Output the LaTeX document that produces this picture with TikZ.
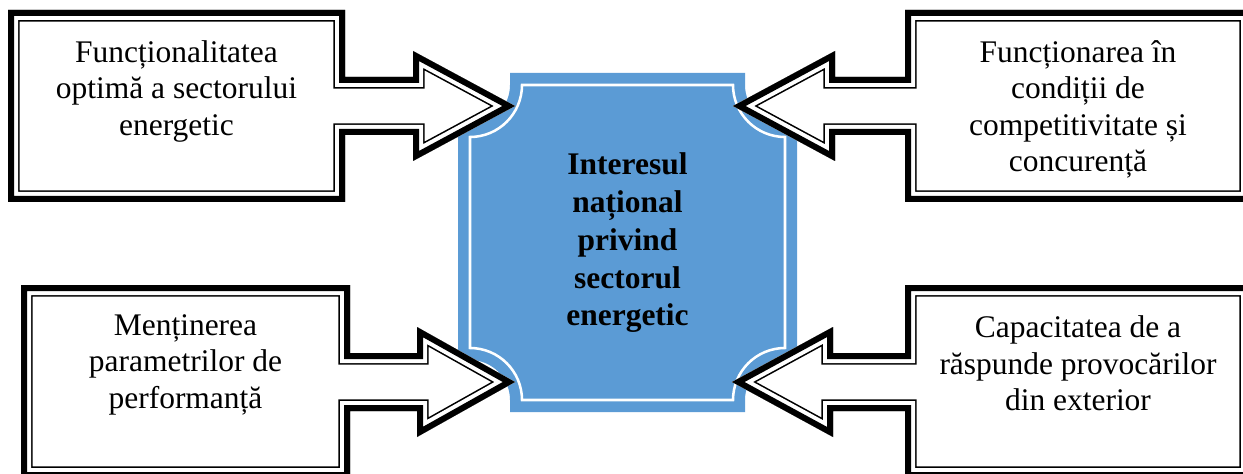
\documentclass[tikz,border=0pt]{standalone}
\usepackage{fontspec}
\setmainfont{Liberation Serif}
\definecolor{plaqueblue}{RGB}{91,155,213}
\newcommand{\mycallout}[1]{%
  \begin{scope}
    \clip #1;
    \fill[white] #1;
    \draw[black, line width=17.4pt, line join=miter, miter limit=20] #1;
    \draw[white, line width=15pt, line join=miter, miter limit=20] #1;
    \draw[black, line width=9pt, line join=miter, miter limit=20] #1;
  \end{scope}}
\begin{document}
\begin{tikzpicture}[x=0.75pt, y=-0.75pt,
  boxtext/.style={font=\fontsize{23.6pt}{27.4pt}\selectfont, align=center, inner sep=0pt, anchor=north},
  centertext/.style={font=\fontsize{23.6pt}{28.3pt}\selectfont\bfseries, align=center, inner sep=0pt, anchor=north},
  plaqueline/.style={draw=white, line width=1.9pt}]
\useasboundingbox (0,0) rectangle (1243,474);

% central plaque
\fill[plaqueblue] (510,73) -- (745,73) -- (745,85) .. controls (745,107.1) and (762.9,125) .. (785,125) -- (797,125) -- (797,360) -- (785,360) .. controls (762.9,360) and (745,377.9) .. (745,400) -- (745,412) -- (510,412) -- (510,400) .. controls (510,377.9) and (492.1,360) .. (470,360) -- (458,360) -- (458,125) -- (470,125) .. controls (492.1,125) and (510,107.1) .. (510,85) -- cycle;
\path[plaqueline] (522,85) -- (733,85) .. controls (733,113.7) and (756.3,137) .. (785,137) -- (785,348) .. controls (756.3,348) and (733,371.3) .. (733,400) -- (522,400) .. controls (522,371.3) and (498.7,348) .. (470,348) -- (470,137) .. controls (498.7,137) and (522,113.7) .. (522,85) -- cycle;

% callouts
\mycallout{(8,10) -- (345,10) -- (345,77) -- (413,77) -- (413,51) -- (515,106) -- (413,161) -- (413,135) -- (345,135) -- (345,202) -- (8,202) -- cycle}
\mycallout{(1251,10) -- (905,10) -- (905,77) -- (835,77) -- (835,51) -- (733,106) -- (835,161) -- (835,135) -- (905,135) -- (905,202) -- (1251,202) -- cycle}
\mycallout{(21,285) -- (350,285) -- (350,353) -- (417,353) -- (417,327) -- (515,382) -- (417,437) -- (417,411) -- (350,411) -- (350,478) -- (21,478) -- cycle}
\mycallout{(1251,285) -- (905,285) -- (905,353) -- (833,353) -- (833,327) -- (732,382) -- (833,437) -- (833,411) -- (905,411) -- (905,478) -- (1251,478) -- cycle}

% texts
\node[boxtext] (t1) at (176.5,40) {Funcționalitatea\\optimă a sectorului\\energetic};
\node[boxtext] (t2) at (1078,40) {Funcționarea în\\condiții de\\competitivitate și\\concurență};
\node[boxtext] (t3) at (185.5,314) {Menținerea\\parametrilor de\\performanță};
\node[boxtext] (t4) at (1078,315.5) {Capacitatea de a\\răspunde provocărilor\\din exterior};
\node[centertext] (c) at (627.5,152.8) {Interesul\\național\\privind\\sectorul\\energetic};
\end{tikzpicture}
\end{document}
